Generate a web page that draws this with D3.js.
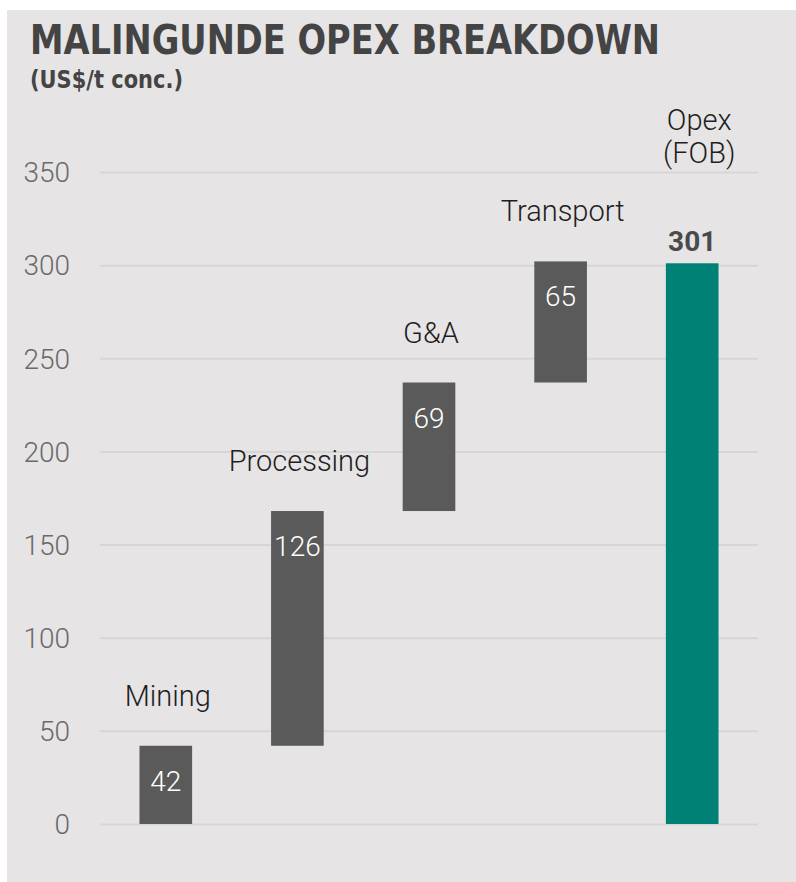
<!DOCTYPE html>
<html>
<head>
<meta charset="utf-8">
<script src="https://cdn.jsdelivr.net/npm/d3@7"></script>
<style>
  body { margin: 0; background: #ffffff; }
  svg { display: block; }
</style>
</head>
<body>
<div id="chart"></div>
<script>
// chart data
var categories = ["Mining", "Processing", "G&A", "Transport", "Opex (FOB)"];
var stepValues = [42, 126, 69, 65];
var totalValue = 301;
var yTicks = [0, 50, 100, 150, 200, 250, 300, 350];

var svgWidth = 796;
var svgHeight = 882;

var margin = { top: 172, right: 38, bottom: 58, left: 100 };
var chartWidth = svgWidth - margin.left - margin.right;
var chartHeight = svgHeight - margin.top - margin.bottom;

var svg = d3.select("#chart")
    .append("svg")
    .attr("width", svgWidth)
    .attr("height", svgHeight);

// grey panel
svg.append("rect")
    .attr("x", 7)
    .attr("y", 10)
    .attr("width", svgWidth - 7)
    .attr("height", svgHeight - 10)
    .attr("fill", "#e6e4e5");

svg.append("text")
    .attr("x", 30)
    .attr("y", 54)
    .attr("textLength", 630)
    .attr("lengthAdjust", "spacingAndGlyphs")
    .style("font-family", "'Liberation Sans Narrow', 'DejaVu Sans Condensed', 'Roboto', sans-serif")
    .style("font-weight", "bold")
    .style("font-size", "40px")
    .style("fill", "#444444")
    .text("MALINGUNDE OPEX BREAKDOWN");

svg.append("text")
    .attr("x", 30)
    .attr("y", 88)
    .attr("textLength", 153)
    .attr("lengthAdjust", "spacingAndGlyphs")
    .style("font-family", "'Liberation Sans Narrow', 'DejaVu Sans Condensed', 'Roboto', sans-serif")
    .style("font-weight", "bold")
    .style("font-size", "24px")
    .style("fill", "#444444")
    .text("(US$/t conc.)");

var chartGroup = svg.append("g")
    .attr("transform", `translate(${margin.left},${margin.top})`);

// waterfall records
var bars = [];
var running = 0;
stepValues.forEach(function(v, i) {
    bars.push({ name: categories[i], start: running, end: running + v, value: v, total: false });
    running += v;
});
bars.push({ name: categories[4], start: 0, end: totalValue, value: totalValue, total: true });

var xScale = d3.scaleBand()
    .domain(categories)
    .range([0, chartWidth])
    .paddingInner(0.6)
    .paddingOuter(0.3);

var yScale = d3.scaleLinear()
    .domain([0, 350])
    .range([chartHeight, 0]);

var leftAxis = d3.axisLeft(yScale)
    .tickValues(yTicks)
    .tickSize(-chartWidth)
    .tickPadding(30);

var yAxis = chartGroup.append("g").call(leftAxis);
yAxis.select(".domain").remove();
yAxis.selectAll(".tick line")
    .attr("stroke", "#d7d5d6")
    .attr("stroke-width", 2);
yAxis.selectAll(".tick text")
    .style("font-family", "Roboto, sans-serif")
    .style("font-weight", 300)
    .style("font-size", "28px")
    .style("fill", "#6a6a6a")
    .attr("dy", "0.35em");

var gbars = chartGroup.selectAll("g.bar")
    .data(bars)
    .enter()
    .append("g")
    .attr("class", "bar");

gbars.append("rect")
    .attr("x", d => xScale(d.name))
    .attr("y", d => yScale(d.end))
    .attr("width", xScale.bandwidth())
    .attr("height", d => yScale(d.start) - yScale(d.end))
    .attr("fill", d => d.total ? "#008175" : "#5a5a5a");

// values inside the step bars
gbars.filter(d => !d.total).append("text")
    .attr("x", d => xScale(d.name) + xScale.bandwidth() / 2)
    .attr("y", d => yScale(d.end) + 45)
    .attr("text-anchor", "middle")
    .style("font-family", "Roboto, sans-serif")
    .style("font-weight", 300)
    .style("font-size", "28px")
    .style("fill", "#ffffff")
    .text(d => d.value);

// category names above the step bars
gbars.filter(d => !d.total).append("text")
    .attr("x", d => xScale(d.name) + xScale.bandwidth() / 2 + 2)
    .attr("y", d => yScale(d.end) - 40)
    .attr("text-anchor", "middle")
    .style("font-family", "Roboto, sans-serif")
    .style("font-weight", 300)
    .style("font-size", "29px")
    .style("fill", "#1e1e1e")
    .text(d => d.name);

// total bar labels
var totalBar = gbars.filter(d => d.total);

totalBar.append("text")
    .attr("x", d => xScale(d.name) + xScale.bandwidth() / 2)
    .attr("y", d => yScale(d.end) - 12)
    .attr("text-anchor", "middle")
    .style("font-family", "Roboto, sans-serif")
    .style("font-weight", "bold")
    .style("font-size", "28px")
    .style("fill", "#4a4a4a")
    .text(d => d.value);

var totalName = totalBar.append("text")
    .attr("text-anchor", "middle")
    .style("font-family", "Roboto, sans-serif")
    .style("font-weight", 300)
    .style("font-size", "29px")
    .style("fill", "#1e1e1e");

totalName.selectAll("tspan")
    .data(d => d.name.split(" ").map(s => ({ s: s, d: d })))
    .enter()
    .append("tspan")
    .attr("x", t => xScale(t.d.name) + xScale.bandwidth() / 2 + 7)
    .attr("y", (t, i) => yScale(350) - 42 + i * 33)
    .text(t => t.s);
</script>
</body>
</html>
